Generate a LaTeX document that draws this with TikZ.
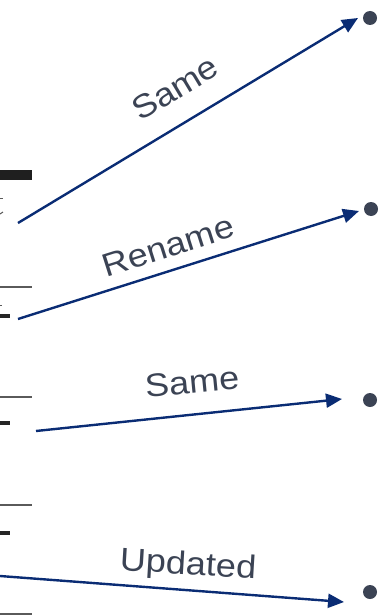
\documentclass[tikz,border=0pt]{standalone}
\usepackage{fontspec}
\setmainfont{Liberation Sans}
\usetikzlibrary{arrows.meta}
\definecolor{slate}{HTML}{3B4354}
\definecolor{navy}{HTML}{0A2C74}
\definecolor{rulegray}{HTML}{5A5A5A}
\tikzset{
  link/.style={draw=navy, line width=2.4pt, -{Triangle[length=16pt,width=14pt]}},
  tag/.style={text=slate, font=\fontsize{32.5}{32.5}\selectfont, inner sep=0pt},
  bullet/.style={circle, fill=slate, minimum size=14pt, inner sep=0pt},
  rulerline/.style={draw=rulegray, line width=1.6pt},
  dashmark/.style={draw=black!85, line width=3.5pt},
}
\newcommand{\wide}[1]{\scalebox{1.11}[1]{#1}}
\begin{document}
\begin{tikzpicture}[x=1pt, y=-1pt]
  \useasboundingbox (0,0) rectangle (385,615);

  % left-hand fragments of the table
  \fill[black!88] (0,170) rectangle (32,180);
  \draw[rulegray, line width=1pt] (0,198) -- (3,198);
  \draw[rulegray, line width=1pt] (0,214) -- (3,212);
  \draw[rulerline] (0,287) -- (32,287);
  \draw[rulegray, line width=1pt] (0,305) -- (2,305);
  \draw[dashmark] (0,316) -- (10,316);
  \draw[rulerline] (0,397) -- (32,397);
  \draw[dashmark] (0,423) -- (10,423);
  \draw[rulerline] (0,505) -- (32,505);
  \draw[dashmark] (0,533) -- (10,533);
  \draw[rulerline] (0,614) -- (32,614);

  % bullets on the right
  \node[bullet] (b1) at (370,18) {};
  \node[bullet] (b2) at (371,209) {};
  \node[bullet] (b3) at (370,400) {};
  \node[bullet] (b4) at (370,592) {};

  % connector ends
  \coordinate (s1) at (18,223);  \coordinate (t1) at (358,18);
  \coordinate (s2) at (18,319);  \coordinate (t2) at (359,211);
  \coordinate (s3) at (36,431);  \coordinate (t3) at (342,399);
  \coordinate (s4) at (0,576);   \coordinate (t4) at (344,602);

  \draw[link] (s1) -- (t1);
  \draw[link] (s2) -- (t2);
  \draw[link] (s3) -- (t3);
  \draw[link] (s4) -- (t4);

  % labels
  \node[tag, rotate=31] (l1) at (175,88) {\wide{Same}};
  \node[tag, rotate=17.6] (l2) at (168,246) {\wide{Rename}};
  \node[tag, rotate=5.5] (l3) at (192,382) {\wide{Same}};
  \node[tag, rotate=-3.5] (l4) at (188,566) {\wide{Updated}};
\end{tikzpicture}
\end{document}
